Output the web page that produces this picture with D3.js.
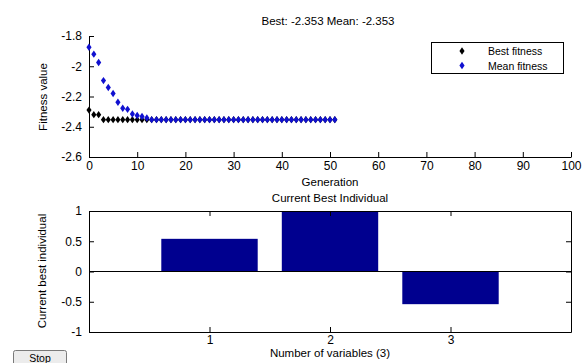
<!DOCTYPE html>
<html><head><meta charset="utf-8">
<script src="https://cdn.jsdelivr.net/npm/d3@7/dist/d3.min.js"></script>
<style>
body{margin:0;background:#fff;}
svg{display:block;font-family:"Liberation Sans",Arial,sans-serif;}
</style></head>
<body>
<svg id="c" width="582" height="363"></svg>
<script>
// Data
const generations = d3.range(0, 52);
const bestFitness = [-2.29, -2.32, -2.32].concat(d3.range(3, 52).map(() => -2.353));
const meanFitness = [-1.875, -1.92, -1.975, -2.095, -2.14, -2.18, -2.238, -2.278, -2.285, -2.316, -2.325, -2.332, -2.342]
  .concat(d3.range(13, 52).map(() => -2.353));
const topXTicks = [0,10,20,30,40,50,60,70,80,90,100];
const topYTicks = [-2.6,-2.4,-2.2,-2,-1.8];
const variables = [1, 2, 3];
const bestIndividual = [0.54, 1.0, -0.54];
const botYTicks = [-1,-0.5,0,0.5,1];

const svg = d3.select("#c");
const fs = "12px";

// ---------- Top plot ----------
const x1 = d3.scaleLinear().domain([0,100]).range([89,571]);
const y1 = d3.scaleLinear().domain([-2.6,-1.8]).range([157,36]);

const gx1 = svg.append("g").attr("transform","translate(0,157)")
  .call(d3.axisBottom(x1).tickValues(topXTicks).tickSizeInner(-5).tickSizeOuter(0).tickPadding(4).tickFormat(d3.format("d")));
const gy1 = svg.append("g").attr("transform","translate(89,0)")
  .call(d3.axisLeft(y1).tickValues(topYTicks).tickSizeInner(-5).tickSizeOuter(0).tickPadding(7).tickFormat(d => String(d)));
[gx1, gy1].forEach(g => {
  g.selectAll("path,line").attr("stroke","#000");
  g.selectAll("text").attr("fill","#000").style("font-size", fs).style("font-family","'Liberation Sans',Arial,sans-serif");
});

const diamond = d3.symbol().type(d3.symbolDiamond).size(16);
svg.append("g").selectAll("path").data(generations).join("path")
  .attr("d", diamond)
  .attr("transform", (d,i) => `translate(${x1(d)},${y1(bestFitness[i])}) scale(1.2,1)`)
  .attr("fill","#000");
svg.append("g").selectAll("path").data(generations).join("path")
  .attr("d", diamond)
  .attr("transform", (d,i) => `translate(${x1(d)},${y1(meanFitness[i])}) scale(1.2,1)`)
  .attr("fill","#1010d0");

svg.append("text").attr("x",328).attr("y",25).attr("text-anchor","middle")
  .style("font-size","11.5px").text("Best: -2.353 Mean: -2.353");
svg.append("text").attr("x",330).attr("y",186).attr("text-anchor","middle")
  .style("font-size","11.5px").text("Generation");
svg.append("text").attr("transform","translate(47,97) rotate(-90)").attr("text-anchor","middle")
  .style("font-size","11.5px").text("Fitness value");

// Legend
const lg = svg.append("g");
lg.append("rect").attr("x",431.5).attr("y",42.5).attr("width",132).attr("height",31)
  .attr("fill","#fff").attr("stroke","#000");
const legendItems = [["Best fitness","#000"],["Mean fitness","#1010d0"]];
legendItems.forEach((it,i) => {
  lg.append("path").attr("d", diamond).attr("transform",`translate(462,${51+i*14.5}) scale(1.2,1)`).attr("fill",it[1]);
  lg.append("text").attr("x",488).attr("y",55+i*14.5).style("font-size","10.5px").text(it[0]);
});

// ---------- Bottom plot ----------
const x2 = d3.scaleLinear().domain([0,4]).range([89,571]);
const y2 = d3.scaleLinear().domain([-1,1]).range([332,211]);

svg.append("g").selectAll("rect").data(variables).join("rect")
  .attr("x", d => x2(d-0.4))
  .attr("width", d => x2(d+0.4)-x2(d-0.4))
  .attr("y", (d,i) => y2(Math.max(0,bestIndividual[i])))
  .attr("height", (d,i) => Math.abs(y2(bestIndividual[i]) - y2(0)))
  .attr("fill","#00008f");

svg.append("line").attr("x1",x2(0)).attr("x2",x2(4)).attr("y1",y2(0)).attr("y2",y2(0)).attr("stroke","#000");

const gx2 = svg.append("g").attr("transform","translate(0,332)")
  .call(d3.axisBottom(x2).tickValues(variables).tickSizeInner(-5).tickSizeOuter(0).tickPadding(3).tickFormat(d3.format("d")));
const gx2t = svg.append("g").attr("transform","translate(0,211)")
  .call(d3.axisTop(x2).tickValues(variables).tickSizeInner(-5).tickSizeOuter(0).tickFormat(""));
const gy2 = svg.append("g").attr("transform","translate(89,0)")
  .call(d3.axisLeft(y2).tickValues(botYTicks).tickSizeInner(-5).tickSizeOuter(0).tickPadding(7).tickFormat(d => String(d)));
const gy2r = svg.append("g").attr("transform","translate(571,0)")
  .call(d3.axisRight(y2).tickValues(botYTicks).tickSizeInner(-5).tickSizeOuter(0).tickFormat(""));
[gx2,gx2t,gy2,gy2r].forEach(g => {
  g.selectAll("path,line").attr("stroke","#000");
  g.selectAll("text").attr("fill","#000").style("font-size", fs).style("font-family","'Liberation Sans',Arial,sans-serif");
});

svg.append("text").attr("x",330).attr("y",202).attr("text-anchor","middle")
  .style("font-size","11.5px").text("Current Best Individual");
svg.append("text").attr("x",330).attr("y",357).attr("text-anchor","middle")
  .style("font-size","11.5px").text("Number of variables (3)");
svg.append("text").attr("transform","translate(46,271) rotate(-90)").attr("text-anchor","middle")
  .style("font-size","11.5px").text("Current best individual");

// Stop button
const btn = svg.append("g");
btn.append("rect").attr("x",13.5).attr("y",350.5).attr("width",53).attr("height",16).attr("rx",2)
  .attr("fill","#ececec").attr("stroke","#7a7a7a");
btn.append("text").attr("x",40).attr("y",362).attr("text-anchor","middle").style("font-size","10.5px").text("Stop");
</script>
</body></html>
